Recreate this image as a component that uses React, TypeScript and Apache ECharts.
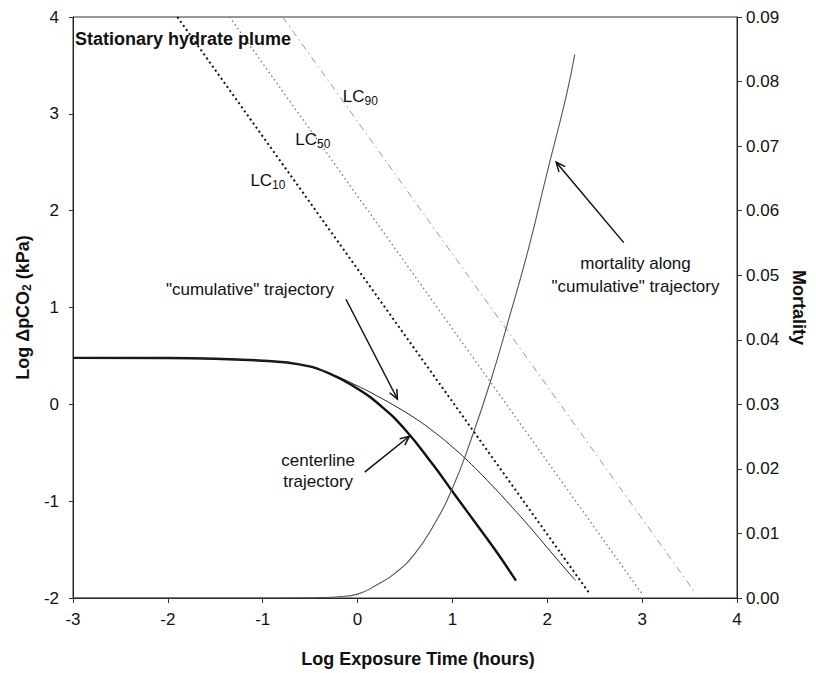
import React, { useEffect, useRef } from "react";
import * as echarts from "echarts";

// Axis ranges / ticks
const X_MIN = -3, X_MAX = 4, X_STEP = 1;
const Y_MIN = -2, Y_MAX = 4, Y_STEP = 1;
const M_MIN = 0, M_MAX = 0.09, M_STEP = 0.01;

// LC lines (log exposure time, log dpCO2)
const LC10_X = [-1.9, 2.45];
const LC10_Y = [4, -1.96];
const LC50_X = [-1.35, 3.0];
const LC50_Y = [4, -1.96];
const LC90_X = [-0.79, 3.57];
const LC90_Y = [4, -1.96];

// Centerline trajectory (thick)
const CENTER_X = [-3, -2, -1.5, -1, -0.6, -0.3, 0, 0.25, 0.5, 0.8, 1.0, 1.3, 1.47, 1.67];
const CENTER_Y = [0.48, 0.478, 0.47, 0.45, 0.41, 0.32, 0.16, -0.02, -0.26, -0.63, -0.9, -1.3, -1.53, -1.82];

// "Cumulative" trajectory (thin)
const CUM_X = [-3, -2, -1.5, -1, -0.6, -0.3, 0, 0.2, 0.4, 0.6, 0.8, 1.0, 1.2, 1.4, 1.6, 1.8, 2.0, 2.2, 2.3];
const CUM_Y = [0.48, 0.478, 0.47, 0.45, 0.41, 0.32, 0.19, 0.09, -0.02, -0.14, -0.28, -0.44, -0.62, -0.82, -1.03, -1.25, -1.48, -1.71, -1.82];

// Mortality along "cumulative" trajectory (right axis)
const MORT_X = [-3, -2, -1, -0.6, -0.4, -0.2, 0, 0.2, 0.4, 0.6, 0.8, 1.0, 1.2, 1.4, 1.6, 1.8, 2.0, 2.2, 2.29];
const MORT_Y = [0, 0, 0, 0.00002, 0.00006, 0.0002, 0.0006, 0.002, 0.0039, 0.0068, 0.0112, 0.017, 0.0247, 0.0335, 0.0435, 0.054, 0.066, 0.0778, 0.0842];

const zip = (xs: number[], ys: number[]) => xs.map((x, i) => [x, ys[i]]);

const FONT = "Liberation Sans, Arial, Helvetica, sans-serif";

export default function App() {
  const ref = useRef<HTMLDivElement>(null);

  useEffect(() => {
    document.body.style.margin = "0";
    const chart = echarts.init(ref.current!, null, { renderer: "svg" });
    const axisLine = { show: true, onZero: false, lineStyle: { color: "#222", width: 1 } };
    const option: any = {
      animation: false,
      backgroundColor: "#fff",
      grid: {
        left: 73,
        right: 74,
        top: 17,
        bottom: 74,
        show: true,
        borderColor: "#333",
        borderWidth: 1,
        containLabel: false,
      },
      xAxis: {
        type: "value",
        min: X_MIN,
        max: X_MAX,
        interval: X_STEP,
        name: "Log Exposure Time (hours)",
        nameLocation: "middle",
        nameGap: 52,
        nameTextStyle: { fontFamily: FONT, fontSize: 18, fontWeight: "bold", color: "#111", padding: [0, 0, 0, 26] },
        axisLine,
        axisTick: { show: true, inside: false, length: 5, lineStyle: { color: "#333" } },
        axisLabel: { fontFamily: FONT, fontSize: 17, color: "#111", margin: 13 },
        splitLine: { show: false },
      },
      yAxis: [
        {
          type: "value",
          min: Y_MIN,
          max: Y_MAX,
          interval: Y_STEP,
          position: "left",
          name: "Log ΔpCO{sub|2} (kPa)",
          nameLocation: "middle",
          nameGap: 40,
          nameTextStyle: {
            fontFamily: FONT,
            fontSize: 18,
            fontWeight: "bold",
            color: "#111",
            rich: { sub: { fontFamily: FONT, fontSize: 12, fontWeight: "bold", color: "#111", verticalAlign: "bottom", padding: [8, 0, 0, 0] } },
          },
          axisLine,
          axisTick: { show: true, inside: false, length: 4, lineStyle: { color: "#333" } },
          axisLabel: { fontFamily: FONT, fontSize: 17, color: "#111", margin: 14 },
          splitLine: { show: false },
        },
        {
          type: "value",
          min: M_MIN,
          max: M_MAX,
          interval: M_STEP,
          position: "right",
          name: "Mortality",
          nameLocation: "middle",
          nameRotate: -90,
          nameGap: 52,
          nameTextStyle: { fontFamily: FONT, fontSize: 18, fontWeight: "bold", color: "#111" },
          axisLine,
          axisTick: { show: true, inside: false, length: 5, lineStyle: { color: "#333" } },
          axisLabel: { fontFamily: FONT, fontSize: 17, color: "#111", margin: 9, formatter: (v: number) => v.toFixed(2) },
          splitLine: { show: false },
        },
      ],
      series: [
        {
          name: "LC10",
          type: "line",
          data: zip(LC10_X, LC10_Y),
          showSymbol: false,
          lineStyle: { color: "#111", width: 2, type: [2, 3] },
          clip: true,
          z: 3,
        },
        {
          name: "LC50",
          type: "line",
          data: zip(LC50_X, LC50_Y),
          showSymbol: false,
          lineStyle: { color: "#777", width: 1.3, type: [1.5, 3] },
          clip: true,
          z: 3,
        },
        {
          name: "LC90",
          type: "line",
          data: zip(LC90_X, LC90_Y),
          showSymbol: false,
          lineStyle: { color: "#999", width: 1, type: [7, 4, 1.5, 4] },
          clip: true,
          z: 3,
        },
        {
          name: "centerline trajectory",
          type: "line",
          data: zip(CENTER_X, CENTER_Y),
          showSymbol: false,
          smooth: 0.5,
          lineStyle: { color: "#111", width: 2.4 },
          z: 4,
        },
        {
          name: "cumulative trajectory",
          type: "line",
          data: zip(CUM_X, CUM_Y),
          showSymbol: false,
          smooth: 0.5,
          lineStyle: { color: "#222", width: 1 },
          z: 4,
        },
        {
          name: "mortality",
          type: "line",
          yAxisIndex: 1,
          data: zip(MORT_X, MORT_Y),
          showSymbol: false,
          smooth: 0.5,
          lineStyle: { color: "#555", width: 1.1 },
          z: 4,
        },
      ],
    };
    chart.setOption(option);

    const P = (x: number, y: number) => chart.convertToPixel({ xAxisIndex: 0, yAxisIndex: 0 }, [x, y]) as number[];
    const textStyle = (text: string, x: number, y: number, align: string, extra: any = {}) => ({
      type: "text",
      x,
      y,
      z: 10,
      style: { text, fill: "#111", font: `17px ${FONT}`, textAlign: align, textVerticalAlign: "middle", ...extra },
    });
    const arrow = (from: number[], to: number[]) => {
      const a = P(from[0], from[1]);
      const b = P(to[0], to[1]);
      const ang = Math.atan2(b[1] - a[1], b[0] - a[0]);
      const L = 10, w = 0.42;
      const h1 = [b[0] - L * Math.cos(ang - w), b[1] - L * Math.sin(ang - w)];
      const h2 = [b[0] - L * Math.cos(ang + w), b[1] - L * Math.sin(ang + w)];
      return [
        { type: "line", z: 10, shape: { x1: a[0], y1: a[1], x2: b[0], y2: b[1] }, style: { stroke: "#111", lineWidth: 1.5 } },
        { type: "polyline", z: 10, shape: { points: [h1, b, h2] }, style: { stroke: "#111", lineWidth: 1.5, fill: null } },
      ];
    };
    const lcLabel = (num: string, x: number, y: number) => {
      const p = P(x, y);
      return {
        type: "text",
        x: p[0],
        y: p[1],
        z: 10,
        style: {
          text: `{a|LC}{b|${num}}`,
          textAlign: "left",
          textVerticalAlign: "middle",
          rich: {
            a: { font: `17px ${FONT}`, fill: "#111" },
            b: { font: `12px ${FONT}`, fill: "#111", padding: [9, 0, 0, 0] },
          },
        },
      };
    };
    const t1 = P(-2.98, 3.77);
    const tc = P(-2.02, 1.19);
    const c1 = P(-0.416, -0.58);
    const c2 = P(-0.416, -0.8);
    const m1 = P(2.93, 1.45);
    const m2 = P(2.93, 1.22);
    const graphics: any[] = [
      textStyle("Stationary hydrate plume", t1[0], t1[1], "left", { font: `bold 18px ${FONT}` }),
      lcLabel("90", -0.155, 3.18),
      lcLabel("50", -0.657, 2.73),
      lcLabel("10", -1.13, 2.31),
      textStyle('"cumulative" trajectory', tc[0], tc[1], "left"),
      ...arrow([-0.123, 1.085], [0.42, 0.055]),
      textStyle("centerline", c1[0], c1[1], "center"),
      textStyle("trajectory", c2[0], c2[1], "center"),
      ...arrow([0.075, -0.7], [0.546, -0.33]),
      textStyle("mortality along", m1[0], m1[1], "center"),
      textStyle('"cumulative" trajectory', m2[0], m2[1], "center"),
      ...arrow([2.806, 1.67], [2.094, 2.5]),
    ];
    chart.setOption({ graphic: graphics });

    return () => chart.dispose();
  }, []);

  return <div ref={ref} style={{ width: 816, height: 673 }} />;
}
